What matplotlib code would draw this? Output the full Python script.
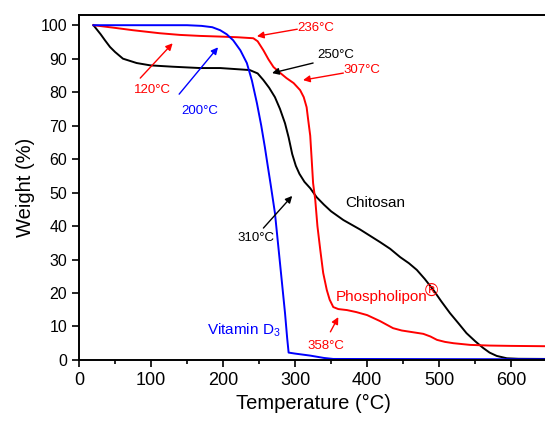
import matplotlib
matplotlib.use('Agg')
import matplotlib.pyplot as plt
from matplotlib.ticker import MultipleLocator

plt.rcParams['font.family'] = ['Liberation Sans', 'DejaVu Sans']
plt.rcParams['mathtext.fontset'] = 'custom'
plt.rcParams['mathtext.rm'] = 'Liberation Sans'
plt.rcParams['mathtext.it'] = 'Liberation Sans'

# Chitosan (black)
chit_t = [20, 30, 36, 43, 50, 61, 80, 99, 130, 168, 196, 237, 248, 256, 264, 272, 279,
          286, 291, 296, 301, 306, 313, 321, 330, 340, 350, 367, 390, 418, 432, 446, 458,
          469, 480, 492, 503, 515, 527, 538, 550, 561, 570, 580, 594, 610, 650]
chit_w = [100, 97.3, 95.5, 93.5, 92, 90, 88.7, 88, 87.6, 87.2, 87.2, 86.6, 85.6, 83.6,
          81.3, 78.5, 75, 70.7, 66.5, 61.5, 58, 55.6, 53.2, 51.3, 48.6, 46.4, 44.4, 41.8,
          39, 35.2, 33.2, 30.7, 28.9, 26.9, 24.2, 20.9, 17.5, 14, 10.9, 8, 5.6, 3.6, 2.2,
          1.2, 0.5, 0.35, 0.3]

# Phospholipon (red)
phos_t = [20, 50, 75, 112, 140, 168, 196, 220, 242, 248, 256, 263, 270, 279, 288, 298,
          307, 312, 316, 318, 321, 323, 325, 328, 331, 335, 339, 344, 348, 353, 360, 372,
          385, 400, 418, 436, 448, 460, 478, 488, 497, 508, 520, 543, 570, 600, 650]
phos_w = [100, 99.2, 98.5, 97.6, 97.1, 96.8, 96.6, 96.4, 96.1, 95.2, 92.5, 89.8, 87.5,
          85.8, 84.2, 82.7, 80.6, 78.5, 75.5, 72, 67, 60, 52.8, 47.8, 40, 32.8, 26, 20.9,
          18, 15.8, 15.2, 14.9, 14.3, 13.4, 11.6, 9.5, 8.8, 8.4, 7.8, 7, 6, 5.4, 5, 4.5,
          4.3, 4.2, 4.1]

# Vitamin D3 (blue)
vit_t = [20, 150, 170, 185, 196, 205, 214, 224, 233, 240, 247, 253, 258, 262, 266, 272,
         279, 286, 289, 291, 300, 321, 340, 353, 650]
vit_w = [100, 100, 99.8, 99.4, 98.5, 97.3, 95.5, 92.5, 88.7, 83.5, 76.7, 70, 63.6, 58,
         52.5, 43.9, 29, 14, 6.5, 2.2, 1.9, 1.3, 0.6, 0.3, 0.2]

# annotations: text, arrow tail, arrow head, colour
notes = [
    ('120°C', (85, 84.2), (130, 94.6), 'red'),
    ('200°C', (139, 79.4), (193, 93.4), 'blue'),
    ('236°C', (303, 98.8), (247, 96.7), 'red'),
    ('250°C', (325, 88.7), (268, 85.7), 'black'),
    ('307°C', (367, 85.7), (311, 83.6), 'red'),
    ('310°C', (256, 39.4), (296, 49), 'black'),
    ('358°C', (349, 8.4), (360, 12.8), 'red'),
]
text_pos = {
    '120°C': (102, 80.5), '200°C': (167, 74.5), '236°C': (328, 99.3),
    '250°C': (356, 91.2), '307°C': (393, 86.5), '310°C': (246, 36.5),
    '358°C': (343, 4.2),
}

fig = plt.figure(figsize=(5.45, 4.21), dpi=100)
ax = fig.add_axes([0.145, 0.145, 0.859, 0.819])

ax.plot(chit_t, chit_w, color='black', lw=1.4)
ax.plot(phos_t, phos_w, color='#ff0000', lw=1.4)
ax.plot(vit_t, vit_w, color='#0000ff', lw=1.4)

for label, start, head, col in notes:
    ax.annotate('', xy=head, xytext=start,
                arrowprops=dict(arrowstyle='-|>', color=col, lw=1.0,
                                mutation_scale=10, shrinkA=0, shrinkB=0))
    ax.text(*text_pos[label], label, color=col, fontsize=9.5, ha='center', va='center')

ax.text(369, 46.9, 'Chitosan', fontsize=11, color='black', va='center')
phos_lbl = ax.text(356, 18.8, 'Phospholipon', fontsize=11, color='#ff0000', va='center')
ax.annotate('\u00ae', xy=(1.0, 0.3), xycoords=phos_lbl, xytext=(-1.5, 0),
            textcoords='offset points', fontsize=13, color='#ff0000',
            ha='left', va='bottom')
ax.text(178, 9, 'Vitamin D$_3$', fontsize=11, color='#0000ff', va='center')

ax.set_xlim(0, 650)
ax.set_ylim(0, 103)
ax.xaxis.set_major_locator(MultipleLocator(100))
ax.xaxis.set_minor_locator(MultipleLocator(50))
ax.yaxis.set_major_locator(MultipleLocator(10))
ax.tick_params(axis='both', which='both', direction='out', width=1.2)
ax.tick_params(axis='x', which='major', length=5, labelsize=13)
ax.tick_params(axis='x', which='minor', length=3)
ax.tick_params(axis='y', which='major', length=5, labelsize=11.5)
for s in ['left', 'bottom', 'top']:
    ax.spines[s].set_linewidth(1.4)
ax.spines['right'].set_visible(False)

ax.set_xlabel('Temperature (°C)', fontsize=14.5)
ax.set_ylabel('Weight (%)', fontsize=14.5)

fig.savefig('out.png', dpi=100)
